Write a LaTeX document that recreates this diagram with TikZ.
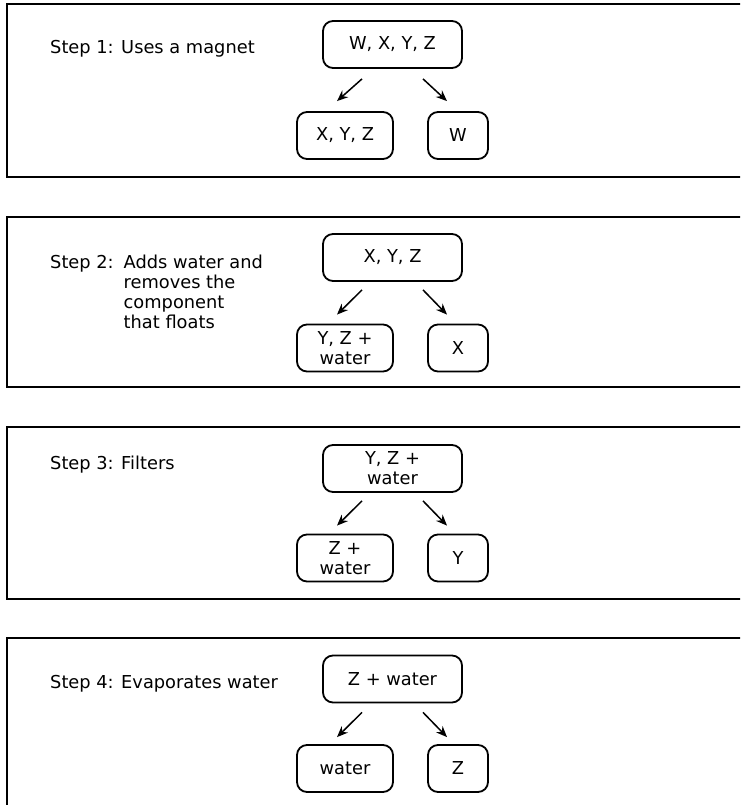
\documentclass[tikz,border=0pt]{standalone}
\usepackage{fontspec}
\setmainfont{DejaVu Sans}
\usetikzlibrary{arrows.meta}
\begin{document}
\begin{tikzpicture}[x=1pt,y=-1pt,
  panel/.style={draw, line width=2pt},
  box/.style={draw, line width=1.8pt, rounded corners=10pt, inner sep=0pt, align=center,
    minimum height=47pt, font=\fontsize{17.8}{20}\selectfont},
  wide/.style={minimum width=139pt},
  mid/.style={minimum width=96pt},
  narrow/.style={minimum width=60pt},
  lbl/.style={inner sep=0pt, anchor=base west, font=\fontsize{17.8}{20}\selectfont},
  arr/.style={line width=1.5pt, -{Stealth[length=11pt,width=9pt]}}]
\useasboundingbox (0,0) rectangle (740,805);
\begin{scope}
\clip (0,0) rectangle (740,805);
\draw[panel] (7,4) rectangle (760,177);
\draw[panel] (7,217) rectangle (760,387);
\draw[panel] (7,427) rectangle (760,599);
\draw[panel] (7,638) rectangle (760,830);
\end{scope}

% Step 1
\node[lbl] (s1) at (50,53.5) {Step 1: Uses a magnet};
\node[box, wide] (t1) at (392.5,44.5) {W, X, Y, Z};
\node[box, mid] (l1) at (345,135.5) {X, Y, Z};
\node[box, narrow] (r1) at (458,135.5) {W};
\draw[arr] ([xshift=-30.5pt,yshift=-10pt]t1.south) -- ([xshift=-8pt,yshift=10pt]l1.north);
\draw[arr] ([xshift=30.5pt,yshift=-10pt]t1.south) -- ([xshift=-11pt,yshift=10pt]r1.north);

% Step 2
\node[lbl] (s2) at (50,268.5) {\begin{tabular}[t]{@{}l@{\hspace{10pt}}l@{}}Step 2: & Adds water and\\ & removes the\\ & component\\ & that floats\end{tabular}};
\node[box, wide] (t2) at (392.5,257.5) {X, Y, Z};
\node[box, mid] (l2) at (345,348) {Y, Z +\\water};
\node[box, narrow] (r2) at (458,348) {X};
\draw[arr] ([xshift=-30.5pt,yshift=-8pt]t2.south) -- ([xshift=-8pt,yshift=9pt]l2.north);
\draw[arr] ([xshift=30.5pt,yshift=-8pt]t2.south) -- ([xshift=-11pt,yshift=9pt]r2.north);

% Step 3
\node[lbl] (s3) at (50,469.5) {Step 3: Filters};
\node[box, wide] (t3) at (392.5,468.5) {Y, Z +\\water};
\node[box, mid] (l3) at (345,558) {Z +\\water};
\node[box, narrow] (r3) at (458,558) {Y};
\draw[arr] ([xshift=-30.5pt,yshift=-8pt]t3.south) -- ([xshift=-8pt,yshift=8pt]l3.north);
\draw[arr] ([xshift=30.5pt,yshift=-8pt]t3.south) -- ([xshift=-11pt,yshift=8pt]r3.north);

% Step 4
\node[lbl] (s4) at (50,688.5) {Step 4: Evaporates water};
\node[box, wide] (t4) at (392.5,679) {Z + water};
\node[box, mid] (l4) at (345,768.5) {water};
\node[box, narrow] (r4) at (458,768.5) {Z};
\draw[arr] ([xshift=-30.5pt,yshift=-9pt]t4.south) -- ([xshift=-8pt,yshift=7pt]l4.north);
\draw[arr] ([xshift=30.5pt,yshift=-9pt]t4.south) -- ([xshift=-11pt,yshift=7pt]r4.north);
\end{tikzpicture}
\end{document}
